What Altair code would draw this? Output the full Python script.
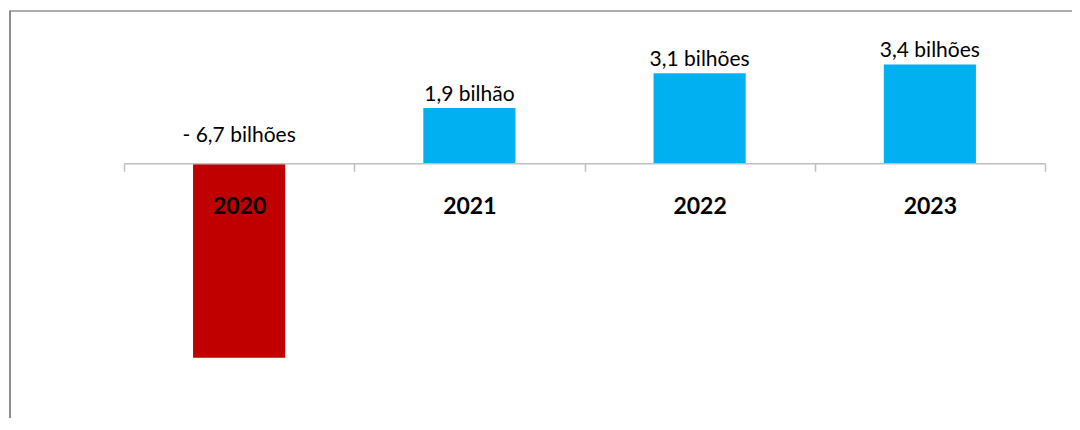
import altair as alt
import pandas as pd

anos = ["2020", "2021", "2022", "2023"]
valores = [-6.7, 1.9, 3.1, 3.4]
rotulos = ["- 6,7 bilhões", "1,9 bilhão", "3,1 bilhões", "3,4 bilhões"]
cores = ["#C00000", "#00B0F0", "#00B0F0", "#00B0F0"]

df = pd.DataFrame({"ano": anos, "valor": valores, "rotulo": rotulos, "cor": cores})

FONT = "Lato"

x = alt.X(
    "ano:N",
    sort=anos,
    scale=alt.Scale(paddingInner=0, paddingOuter=0),
    axis=alt.Axis(
        title=None,
        labelAngle=0,
        labelFont=FONT,
        labelFontSize=23,
        labelFontWeight="bold",
        labelColor="#000000",
        labelPadding=24,
        labelBaseline="top",
        domainColor="#BFBFBF",
        domainWidth=1.5,
        tickColor="#BFBFBF",
        tickWidth=1.5,
        tickSize=8,
        tickBand="extent",
        grid=False,
        offset={"expr": "scale('y', 0) - height"},
        zindex=1,
    ),
)
y = alt.Y("valor:Q", scale=alt.Scale(domain=[-8.5, 5], nice=False, zero=True), axis=None)

base = alt.Chart(df)

bars = base.mark_bar(width={"band": 0.4}).encode(
    x=x,
    y=y,
    y2=alt.datum(0),
    color=alt.Color("cor:N", scale=None),
)

pos_labels = base.transform_filter("datum.valor >= 0").mark_text(
    font=FONT, fontSize=21, baseline="bottom", dy=-3, color="#000000"
).encode(x=alt.X("ano:N", sort=anos), y=alt.Y("valor:Q"), text="rotulo:N")

neg_labels = base.transform_filter("datum.valor < 0").mark_text(
    font=FONT, fontSize=21, baseline="bottom", dy=-17, color="#000000"
).encode(x=alt.X("ano:N", sort=anos), y=alt.datum(0), text="rotulo:N")

frame_df = pd.DataFrame({"k": [0]})
frame_left = alt.Chart(frame_df).mark_rule(color="#8F8F8F", strokeWidth=2).encode(
    x=alt.value(-114), y=alt.value(-7), y2=alt.value(600)
)
frame_top = alt.Chart(frame_df).mark_rule(color="#8F8F8F", strokeWidth=1.5).encode(
    x=alt.value(-115), x2=alt.value(2000), y=alt.value(-7)
)

chart = (
    alt.layer(bars, pos_labels, neg_labels, frame_left, frame_top)
    .properties(
        width=921,
        height=392,
        padding={"left": 116, "top": 10, "right": 27, "bottom": 8},
        autosize=alt.AutoSizeParams(type="none"),
        background="#FFFFFF",
    )
    .configure_view(strokeWidth=0, stroke="transparent")
)

chart.save("out.html", embed_options={"renderer": "svg", "actions": False})
